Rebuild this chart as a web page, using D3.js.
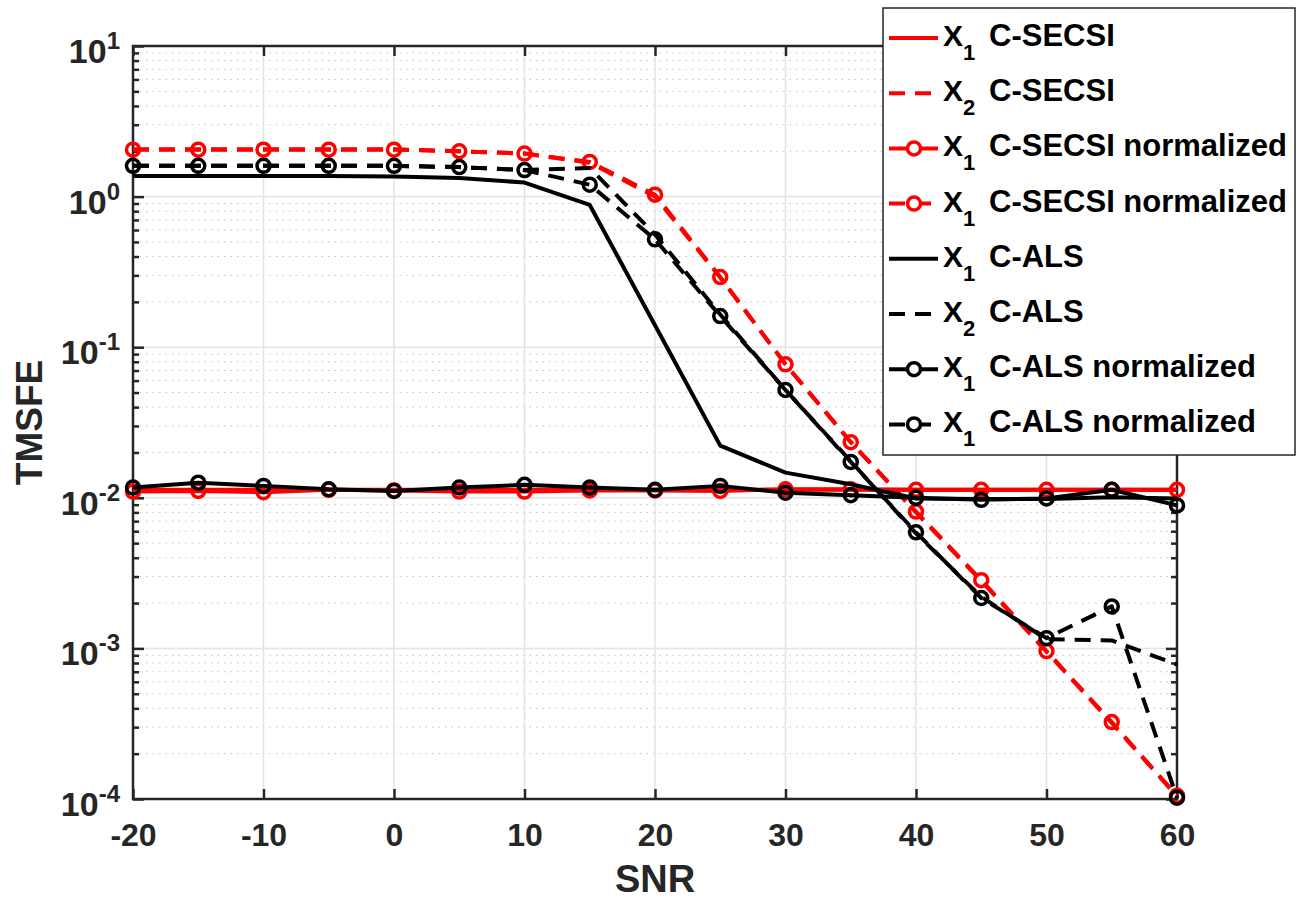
<html>
  <head>
    <meta charset="utf-8">
    <title>TMSFE vs SNR</title>
    <script src="https://cdnjs.cloudflare.com/ajax/libs/d3/7.8.5/d3.min.js"></script>
    <style>
      body { margin: 0; background: #fff; }
      text { font-family: "Liberation Sans", Arial, sans-serif; font-weight: bold; fill: #262626; }
    </style>
  </head>
  <body>
    <div id="chart"></div>
<script>
  // x values (SNR)
  const snr = [-20, -15, -10, -5, 0, 5, 10, 15, 20, 25, 30, 35, 40, 45, 50, 55, 60];

  // TMSFE values
  const secsiX1 = [0.0113, 0.0113, 0.0113, 0.0113, 0.0113, 0.0113, 0.0113, 0.0113, 0.0113, 0.0113, 0.0113, 0.0113, 0.0113, 0.0113, 0.0113, 0.0113, 0.0113];
  const secsiX2 = [2.06, 2.06, 2.06, 2.06, 2.06, 2.0, 1.93, 1.68, 1.0, 0.29, 0.077, 0.0235, 0.0080, 0.0028, 0.00095, 0.00032, 0.000104];
  const secsiX1Norm = [0.0110, 0.0111, 0.0109, 0.0113, 0.0112, 0.0110, 0.0110, 0.0112, 0.0112, 0.0111, 0.0114, 0.0114, 0.0113, 0.0113, 0.0113, 0.0113, 0.0113];
  const secsiX2Norm = [2.05, 2.05, 2.05, 2.05, 2.05, 2.0, 1.93, 1.7, 1.03, 0.292, 0.077, 0.0234, 0.0081, 0.00284, 0.00096, 0.000324, 0.000105];
  const alsX1 = [1.37, 1.37, 1.37, 1.37, 1.36, 1.33, 1.24, 0.88, 0.14, 0.0222, 0.0147, 0.0123, 0.0099, 0.0098, 0.0098, 0.0101, 0.0099];
  const alsX2 = [1.6, 1.6, 1.6, 1.6, 1.6, 1.57, 1.5, 1.55, 0.56, 0.165, 0.052, 0.0175, 0.0058, 0.0022, 0.00115, 0.00113, 0.00078];
  const alsX1Norm = [0.0117, 0.0126, 0.0120, 0.0114, 0.0111, 0.0117, 0.0122, 0.0117, 0.0113, 0.0120, 0.0108, 0.0104, 0.0100, 0.0097, 0.0099, 0.0113, 0.0089];
  const alsX2Norm = [1.6, 1.6, 1.6, 1.6, 1.6, 1.57, 1.5, 1.2, 0.52, 0.161, 0.052, 0.0173, 0.0059, 0.00216, 0.00117, 0.0019, 0.000102];

  const xTicks = [-20, -10, 0, 10, 20, 30, 40, 50, 60];
  const yExponents = [-4, -3, -2, -1, 0, 1];

  const series = [
    { sub: '1', name: 'C-SECSI', values: secsiX1, color: '#ff0000', dash: null, marker: false },
    { sub: '2', name: 'C-SECSI', values: secsiX2, color: '#ff0000', dash: '16,10', marker: false },
    { sub: '1', name: 'C-SECSI normalized', values: secsiX1Norm, color: '#ff0000', dash: null, marker: true },
    { sub: '1', name: 'C-SECSI normalized', values: secsiX2Norm, color: '#ff0000', dash: '16,10', marker: true },
    { sub: '1', name: 'C-ALS', values: alsX1, color: '#000', dash: null, marker: false },
    { sub: '2', name: 'C-ALS', values: alsX2, color: '#000', dash: '16,10', marker: false },
    { sub: '1', name: 'C-ALS normalized', values: alsX1Norm, color: '#000', dash: null, marker: true },
    { sub: '1', name: 'C-ALS normalized', values: alsX2Norm, color: '#000', dash: '16,10', marker: true }
  ];

  const pLeft = 133, pRight = 1177, pTop = 46, pBottom = 799;

  const svg = d3.select('#chart')
    .append('svg')
    .attr('width', 1297)
    .attr('height', 908);

  const x = d3.scaleLinear().domain([-20, 60]).range([pLeft, pRight]);
  const y = d3.scaleLog().domain([1e-4, 10]).range([pBottom, pTop]);

  const majors = yExponents.map(e => Math.pow(10, e));
  const minors = [];
  yExponents.slice(0, -1).forEach(e => {
    for (let k = 2; k <= 9; k++) minors.push(k * Math.pow(10, e));
  });

  // grid
  const grid = svg.append('g');
  grid.selectAll('.minor')
    .data(minors)
    .join('line')
    .attr('x1', pLeft).attr('x2', pRight)
    .attr('y1', d => y(d)).attr('y2', d => y(d))
    .attr('stroke', '#c4c4c4')
    .attr('stroke-width', 1)
    .attr('stroke-dasharray', '1.5,5');
  grid.selectAll('.hmajor')
    .data(majors)
    .join('line')
    .attr('x1', pLeft).attr('x2', pRight)
    .attr('y1', d => y(d)).attr('y2', d => y(d))
    .attr('stroke', '#e3e3e3')
    .attr('stroke-width', 1.5);
  grid.selectAll('.vmajor')
    .data(xTicks)
    .join('line')
    .attr('x1', d => x(d)).attr('x2', d => x(d))
    .attr('y1', pTop).attr('y2', pBottom)
    .attr('stroke', '#e3e3e3')
    .attr('stroke-width', 1.5);

  // axes with inward ticks (box on)
  const axisStyle = g => {
    g.select('.domain').remove();
    g.selectAll('.tick line').attr('stroke', '#262626').attr('stroke-width', 2.5);
  };

  svg.append('g')
    .attr('transform', `translate(0,${pBottom})`)
    .call(d3.axisBottom(x).tickValues(xTicks).tickSize(-10).tickFormat(d3.format('d')))
    .call(axisStyle)
    .call(g => g.selectAll('.tick text')
      .attr('font-size', 32)
      .attr('font-family', '"Liberation Sans", Arial, sans-serif')
      .attr('font-weight', 'bold')
      .attr('fill', '#262626')
      .attr('dy', '0.71em')
      .attr('y', 24)
      .text(d => d < 0 ? '-' + Math.abs(d) : d));

  svg.append('g')
    .attr('transform', `translate(0,${pTop})`)
    .call(d3.axisTop(x).tickValues(xTicks).tickSize(-10).tickFormat(''))
    .call(axisStyle);

  svg.append('g')
    .attr('transform', `translate(${pLeft},0)`)
    .call(d3.axisLeft(y).tickValues(majors).tickSize(-11).tickFormat(''))
    .call(axisStyle);
  svg.append('g')
    .attr('transform', `translate(${pLeft},0)`)
    .call(d3.axisLeft(y).tickValues(minors).tickSize(-6).tickFormat(''))
    .call(axisStyle);
  svg.append('g')
    .attr('transform', `translate(${pRight},0)`)
    .call(d3.axisRight(y).tickValues(majors).tickSize(-11).tickFormat(''))
    .call(axisStyle);
  svg.append('g')
    .attr('transform', `translate(${pRight},0)`)
    .call(d3.axisRight(y).tickValues(minors).tickSize(-6).tickFormat(''))
    .call(axisStyle);

  // box
  svg.append('rect')
    .attr('x', pLeft).attr('y', pTop)
    .attr('width', pRight - pLeft).attr('height', pBottom - pTop)
    .attr('fill', 'none')
    .attr('stroke', '#262626')
    .attr('stroke-width', 2.5);

  // y tick labels 10^n
  const yLabels = svg.append('g').selectAll('text')
    .data(yExponents)
    .join('text')
    .attr('x', 120)
    .attr('y', d => y(Math.pow(10, d)) + 17)
    .attr('text-anchor', 'end')
    .attr('font-size', 34);
  yLabels.append('tspan').text('10');
  yLabels.append('tspan')
    .attr('dy', -14)
    .attr('font-size', 24)
    .text(d => d < 0 ? '-' + Math.abs(d) : d);

  // axis labels
  svg.append('text')
    .attr('x', (pLeft + pRight) / 2)
    .attr('y', 892)
    .attr('text-anchor', 'middle')
    .attr('font-size', 38)
    .text('SNR');
  svg.append('text')
    .attr('transform', `translate(42,${(pTop + pBottom) / 2}) rotate(-90)`)
    .attr('text-anchor', 'middle')
    .attr('font-size', 37)
    .text('TMSFE');

  // lines
  const line = vals => d3.line()
    .x((d, i) => x(snr[i]))
    .y(d => y(d))(vals);

  const plot = svg.append('g');
  series.forEach(s => {
    plot.append('path')
      .attr('d', line(s.values))
      .attr('fill', 'none')
      .attr('stroke', s.color)
      .attr('stroke-width', 4)
      .attr('stroke-dasharray', s.dash)
      .attr('stroke-linejoin', 'round');
    if (s.marker) {
      plot.append('g').selectAll('circle')
        .data(s.values)
        .join('circle')
        .attr('cx', (d, i) => x(snr[i]))
        .attr('cy', d => y(d))
        .attr('r', 6.5)
        .attr('fill', 'none')
        .attr('stroke', s.color)
        .attr('stroke-width', 3.5);
    }
  });

  // legend
  const legend = svg.append('g');
  legend.append('rect')
    .attr('x', 883).attr('y', 8)
    .attr('width', 412).attr('height', 447)
    .attr('fill', '#fff')
    .attr('stroke', '#262626')
    .attr('stroke-width', 1.5);

  const items = legend.selectAll('.item')
    .data(series)
    .join('g')
    .attr('transform', (d, i) => `translate(0,${38 + i * 55.2})`);

  items.append('line')
    .attr('x1', 889).attr('x2', 938)
    .attr('y1', 0).attr('y2', 0)
    .attr('stroke', d => d.color)
    .attr('stroke-width', 4)
    .attr('stroke-dasharray', d => d.dash);
  items.filter(d => d.marker)
    .append('circle')
    .attr('cx', 914).attr('cy', 0).attr('r', 6.5)
    .attr('fill', '#fff')
    .attr('stroke', d => d.color)
    .attr('stroke-width', 3.5);

  const labels = items.append('text')
    .attr('x', 943)
    .attr('y', 8)
    .attr('font-size', 30)
    .style('fill', '#000');
  labels.append('tspan').text('X');
  labels.append('tspan')
    .attr('dy', 14)
    .attr('font-size', 22)
    .text(d => d.sub);
  labels.append('tspan')
    .attr('dy', -14)
    .attr('x', 989)
    .attr('font-size', 31)
    .text(d => d.name);
</script>
  </body>
</html>
